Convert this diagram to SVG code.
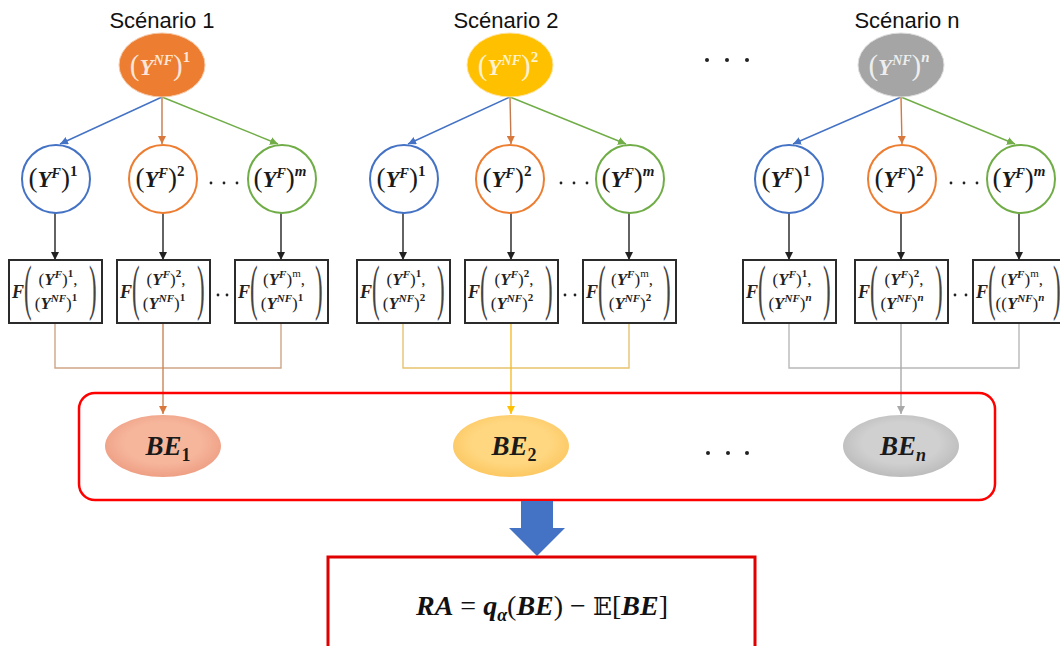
<svg xmlns="http://www.w3.org/2000/svg" width="1060" height="646" viewBox="0 0 1060 646">
  <style>
    .title { font-family: "Liberation Sans", Arial, sans-serif; font-size: 22px; fill: #111; text-anchor: middle; }
    .m { font-family: "Liberation Serif", "DejaVu Serif", serif; }
    .bi { font-weight: bold; font-style: italic; }
    .b { font-weight: bold; }
    .et { fill: #ffffff; fill-opacity: 0.82; font-size: 23px; text-anchor: middle; }
    .ct { fill: #1a1a1a; font-size: 23px; text-anchor: middle; }
    .bx { fill: #ffffff; stroke: #2b2b2b; stroke-width: 2; }
    .bt { fill: #222; font-size: 17px; text-anchor: middle; }
    .bp { fill: #444; font-size: 23px; }
    .bf { fill: #222; font-size: 18px; }
    .circ { fill: #ffffff; stroke-width: 2; }
    .dot { fill: #222; }
    .ln { fill: none; stroke-width: 1.4; }
    .bet { fill: #1a1a1a; font-size: 27px; text-anchor: middle; }
  </style>
  <defs>
    <marker id="a-blue" viewBox="0 0 8 8" refX="8" refY="4" markerWidth="8" markerHeight="8" markerUnits="userSpaceOnUse" orient="auto"><path d="M0,0 L8,4 L0,8 z" fill="#4472c4"/></marker>
    <marker id="a-orange" viewBox="0 0 8 8" refX="8" refY="4" markerWidth="8" markerHeight="8" markerUnits="userSpaceOnUse" orient="auto"><path d="M0,0 L8,4 L0,8 z" fill="#d9783d"/></marker>
    <marker id="a-green" viewBox="0 0 8 8" refX="8" refY="4" markerWidth="8" markerHeight="8" markerUnits="userSpaceOnUse" orient="auto"><path d="M0,0 L8,4 L0,8 z" fill="#70ad47"/></marker>
    <marker id="a-black" viewBox="0 0 8 8" refX="8" refY="4" markerWidth="8" markerHeight="8" markerUnits="userSpaceOnUse" orient="auto"><path d="M0,0 L8,4 L0,8 z" fill="#222"/></marker>
    <marker id="a-gold" viewBox="0 0 8 8" refX="8" refY="4" markerWidth="8" markerHeight="8" markerUnits="userSpaceOnUse" orient="auto"><path d="M0,0 L8,4 L0,8 z" fill="#ffc000"/></marker>
    <marker id="a-grey" viewBox="0 0 8 8" refX="8" refY="4" markerWidth="8" markerHeight="8" markerUnits="userSpaceOnUse" orient="auto"><path d="M0,0 L8,4 L0,8 z" fill="#a8a8a8"/></marker>
    <radialGradient id="g-be1" cx="50%" cy="45%" r="55%"><stop offset="0.6" stop-color="#f6b69c"/><stop offset="1" stop-color="#ee9f84"/></radialGradient>
    <radialGradient id="g-be2" cx="50%" cy="45%" r="55%"><stop offset="0.6" stop-color="#ffd781"/><stop offset="1" stop-color="#fcc862"/></radialGradient>
    <radialGradient id="g-ben" cx="50%" cy="45%" r="55%"><stop offset="0.6" stop-color="#d0d0d0"/><stop offset="1" stop-color="#bcbcbc"/></radialGradient>
  </defs>

  <rect width="1060" height="646" fill="#ffffff"/>

  <!-- scenario titles -->
  <text class="title" x="162" y="28">Scénario 1</text>
  <text class="title" x="506" y="28">Scénario 2</text>
  <text class="title" x="907" y="28">Scénario n</text>

  <!-- connectors -->
  <g id="connectors">
    <!-- scenario 1: top ellipse to circles -->
    <line class="ln" x1="162" y1="97" x2="60" y2="144" stroke="#4472c4" marker-end="url(#a-blue)"/>
    <line class="ln" x1="162" y1="97" x2="162" y2="144" stroke="#c47a4c" marker-end="url(#a-orange)"/>
    <line class="ln" x1="162" y1="97" x2="278" y2="144" stroke="#70ad47" marker-end="url(#a-green)"/>
    <!-- scenario 2 -->
    <line class="ln" x1="510" y1="97" x2="408" y2="144" stroke="#4472c4" marker-end="url(#a-blue)"/>
    <line class="ln" x1="510" y1="97" x2="511" y2="144" stroke="#c47a4c" marker-end="url(#a-orange)"/>
    <line class="ln" x1="510" y1="97" x2="626" y2="144" stroke="#70ad47" marker-end="url(#a-green)"/>
    <!-- scenario n -->
    <line class="ln" x1="901" y1="97" x2="793" y2="144" stroke="#4472c4" marker-end="url(#a-blue)"/>
    <line class="ln" x1="901" y1="97" x2="902" y2="144" stroke="#d9783d" marker-end="url(#a-orange)"/>
    <line class="ln" x1="901" y1="97" x2="1015" y2="144" stroke="#70ad47" marker-end="url(#a-green)"/>

    <!-- circles to F boxes -->
    <g stroke="#222" class="ln">
      <line x1="55" y1="213" x2="55" y2="260" marker-end="url(#a-black)"/>
      <line x1="163" y1="213" x2="163" y2="260" marker-end="url(#a-black)"/>
      <line x1="281" y1="213" x2="281" y2="260" marker-end="url(#a-black)"/>
      <line x1="403" y1="213" x2="403" y2="260" marker-end="url(#a-black)"/>
      <line x1="511" y1="213" x2="511" y2="260" marker-end="url(#a-black)"/>
      <line x1="629" y1="213" x2="629" y2="260" marker-end="url(#a-black)"/>
      <line x1="789" y1="213" x2="789" y2="260" marker-end="url(#a-black)"/>
      <line x1="901" y1="213" x2="901" y2="260" marker-end="url(#a-black)"/>
      <line x1="1019" y1="213" x2="1019" y2="260" marker-end="url(#a-black)"/>
    </g>

    <!-- F boxes merged into BE nodes -->
    <path class="ln" d="M55,323 V368 H281 V323" stroke="#cfa585"/>
    <line class="ln" x1="163" y1="323" x2="163" y2="414" stroke="#c98558" marker-end="url(#a-orange)"/>
    <path class="ln" d="M403,323 V368 H629 V323" stroke="#e6c26e"/>
    <line class="ln" x1="511" y1="323" x2="511" y2="414" stroke="#f5bd2a" marker-end="url(#a-gold)"/>
    <path class="ln" d="M789,323 V368 H1019 V323" stroke="#b8b8b8"/>
    <line class="ln" x1="901" y1="323" x2="901" y2="414" stroke="#aaaaaa" marker-end="url(#a-grey)"/>
  </g>

  <!-- scenario root nodes -->
  <g id="ynf-1">
    <ellipse cx="162" cy="65" rx="43" ry="32" fill="#ed7d31" stroke="#f6c9a8" stroke-width="1"/>
    <text class="m et" x="160" y="75"><tspan font-size="29">(</tspan><tspan class="bi">Y</tspan><tspan class="bi" font-size="14" dy="-10">NF</tspan><tspan font-size="29" dy="10">)</tspan><tspan class="b" font-size="15" dy="-13">1</tspan></text>
  </g>
  <g id="ynf-2">
    <ellipse cx="510" cy="65" rx="43" ry="32" fill="#ffc000" stroke="#ffe3a0" stroke-width="1"/>
    <text class="m et" x="508" y="75"><tspan font-size="29">(</tspan><tspan class="bi">Y</tspan><tspan class="bi" font-size="14" dy="-10">NF</tspan><tspan font-size="29" dy="10">)</tspan><tspan class="b" font-size="15" dy="-13">2</tspan></text>
  </g>
  <g id="ynf-n">
    <ellipse cx="901" cy="65" rx="43" ry="32" fill="#a5a5a5" stroke="#dddddd" stroke-width="1"/>
    <text class="m et" x="899" y="75"><tspan font-size="29">(</tspan><tspan class="bi">Y</tspan><tspan class="bi" font-size="14" dy="-10">NF</tspan><tspan font-size="29" dy="10">)</tspan><tspan class="bi" font-size="15" dy="-13">n</tspan></text>
  </g>
  <g id="dots-top" class="dot">
    <circle cx="707" cy="60" r="2"/><circle cx="727" cy="60" r="2"/><circle cx="747" cy="60" r="2"/>
  </g>

  <!-- Y^F circles -->
  <g id="yf-1-1"><circle class="circ" cx="56" cy="179" r="34" stroke="#4472c4"/>
    <text class="m ct" x="53" y="187"><tspan font-size="27">(</tspan><tspan class="bi">Y</tspan><tspan class="bi" font-size="14" dy="-9">F</tspan><tspan font-size="27" dy="9">)</tspan><tspan class="b" font-size="15" dy="-11">1</tspan></text></g>
  <g id="yf-1-2"><circle class="circ" cx="163" cy="179" r="34" stroke="#ed7d31"/>
    <text class="m ct" x="160" y="187"><tspan font-size="27">(</tspan><tspan class="bi">Y</tspan><tspan class="bi" font-size="14" dy="-9">F</tspan><tspan font-size="27" dy="9">)</tspan><tspan class="b" font-size="15" dy="-11">2</tspan></text></g>
  <g id="yf-1-m"><circle class="circ" cx="282" cy="179" r="34" stroke="#70ad47"/>
    <text class="m ct" x="280" y="187"><tspan font-size="27">(</tspan><tspan class="bi">Y</tspan><tspan class="bi" font-size="14" dy="-9">F</tspan><tspan font-size="27" dy="9">)</tspan><tspan class="bi" font-size="15" dy="-11">m</tspan></text></g>

  <g id="yf-2-1"><circle class="circ" cx="404" cy="179" r="34" stroke="#4472c4"/>
    <text class="m ct" x="401" y="187"><tspan font-size="27">(</tspan><tspan class="bi">Y</tspan><tspan class="bi" font-size="14" dy="-9">F</tspan><tspan font-size="27" dy="9">)</tspan><tspan class="b" font-size="15" dy="-11">1</tspan></text></g>
  <g id="yf-2-2"><circle class="circ" cx="510" cy="179" r="34" stroke="#ed7d31"/>
    <text class="m ct" x="507" y="187"><tspan font-size="27">(</tspan><tspan class="bi">Y</tspan><tspan class="bi" font-size="14" dy="-9">F</tspan><tspan font-size="27" dy="9">)</tspan><tspan class="b" font-size="15" dy="-11">2</tspan></text></g>
  <g id="yf-2-m"><circle class="circ" cx="630" cy="179" r="34" stroke="#70ad47"/>
    <text class="m ct" x="628" y="187"><tspan font-size="27">(</tspan><tspan class="bi">Y</tspan><tspan class="bi" font-size="14" dy="-9">F</tspan><tspan font-size="27" dy="9">)</tspan><tspan class="bi" font-size="15" dy="-11">m</tspan></text></g>

  <g id="yf-n-1"><circle class="circ" cx="789" cy="179" r="34" stroke="#4472c4"/>
    <text class="m ct" x="786" y="187"><tspan font-size="27">(</tspan><tspan class="bi">Y</tspan><tspan class="bi" font-size="14" dy="-9">F</tspan><tspan font-size="27" dy="9">)</tspan><tspan class="b" font-size="15" dy="-11">1</tspan></text></g>
  <g id="yf-n-2"><circle class="circ" cx="902" cy="179" r="34" stroke="#ed7d31"/>
    <text class="m ct" x="899" y="187"><tspan font-size="27">(</tspan><tspan class="bi">Y</tspan><tspan class="bi" font-size="14" dy="-9">F</tspan><tspan font-size="27" dy="9">)</tspan><tspan class="b" font-size="15" dy="-11">2</tspan></text></g>
  <g id="yf-n-m"><circle class="circ" cx="1021" cy="179" r="34" stroke="#70ad47"/>
    <text class="m ct" x="1019" y="187"><tspan font-size="27">(</tspan><tspan class="bi">Y</tspan><tspan class="bi" font-size="14" dy="-9">F</tspan><tspan font-size="27" dy="9">)</tspan><tspan class="bi" font-size="15" dy="-11">m</tspan></text></g>

  <g id="dots-circles" class="dot">
    <circle cx="211" cy="183" r="1.4"/><circle cx="224" cy="183" r="1.4"/><circle cx="237" cy="183" r="1.4"/>
    <circle cx="561" cy="183" r="1.4"/><circle cx="574" cy="183" r="1.4"/><circle cx="587" cy="183" r="1.4"/>
    <circle cx="951" cy="183" r="1.4"/><circle cx="964" cy="183" r="1.4"/><circle cx="977" cy="183" r="1.4"/>
  </g>

  <!-- F(Y^F, Y^NF) boxes, local coordinates from the box's top-left corner -->
  <g id="f-1-1" transform="translate(9,260)">
    <rect class="bx" width="93" height="63"/>
    <text class="m bf bi" x="3" y="38">F</text>
    <text class="m bp" transform="translate(15,48) scale(1,2.7)">(</text>
    <text class="m bt" x="49" y="25">(<tspan class="bi">Y</tspan><tspan class="bi" font-size="11" dy="-7">F</tspan><tspan dy="7">)</tspan><tspan class="b" font-size="11" dy="-8">1</tspan><tspan dy="8">,</tspan></text>
    <text class="m bt" x="47" y="49">(<tspan class="bi">Y</tspan><tspan class="bi" font-size="11" dy="-7">NF</tspan><tspan dy="7">)</tspan><tspan class="b" font-size="11" dy="-8">1</tspan></text>
    <text class="m bp" transform="translate(80,48) scale(1,2.7)">)</text>
  </g>
  <g id="f-1-2" transform="translate(117,260)">
    <rect class="bx" width="93" height="63"/>
    <text class="m bf bi" x="3" y="38">F</text>
    <text class="m bp" transform="translate(15,48) scale(1,2.7)">(</text>
    <text class="m bt" x="49" y="25">(<tspan class="bi">Y</tspan><tspan class="bi" font-size="11" dy="-7">F</tspan><tspan dy="7">)</tspan><tspan class="b" font-size="11" dy="-8">2</tspan><tspan dy="8">,</tspan></text>
    <text class="m bt" x="47" y="49">(<tspan class="bi">Y</tspan><tspan class="bi" font-size="11" dy="-7">NF</tspan><tspan dy="7">)</tspan><tspan class="b" font-size="11" dy="-8">1</tspan></text>
    <text class="m bp" transform="translate(80,48) scale(1,2.7)">)</text>
  </g>
  <g id="f-1-m" transform="translate(235,260)">
    <rect class="bx" width="93" height="63"/>
    <text class="m bf bi" x="3" y="38">F</text>
    <text class="m bp" transform="translate(15,48) scale(1,2.7)">(</text>
    <text class="m bt" x="49" y="25">(<tspan class="bi">Y</tspan><tspan class="bi" font-size="11" dy="-7">F</tspan><tspan dy="7">)</tspan><tspan font-size="11" dy="-8">m</tspan><tspan dy="8">,</tspan></text>
    <text class="m bt" x="47" y="49">(<tspan class="bi">Y</tspan><tspan class="bi" font-size="11" dy="-7">NF</tspan><tspan dy="7">)</tspan><tspan class="b" font-size="11" dy="-8">1</tspan></text>
    <text class="m bp" transform="translate(80,48) scale(1,2.7)">)</text>
  </g>

  <g id="f-2-1" transform="translate(357,260)">
    <rect class="bx" width="93" height="63"/>
    <text class="m bf bi" x="3" y="38">F</text>
    <text class="m bp" transform="translate(15,48) scale(1,2.7)">(</text>
    <text class="m bt" x="49" y="25">(<tspan class="bi">Y</tspan><tspan class="bi" font-size="11" dy="-7">F</tspan><tspan dy="7">)</tspan><tspan class="b" font-size="11" dy="-8">1</tspan><tspan dy="8">,</tspan></text>
    <text class="m bt" x="47" y="49">(<tspan class="bi">Y</tspan><tspan class="bi" font-size="11" dy="-7">NF</tspan><tspan dy="7">)</tspan><tspan class="b" font-size="11" dy="-8">2</tspan></text>
    <text class="m bp" transform="translate(80,48) scale(1,2.7)">)</text>
  </g>
  <g id="f-2-2" transform="translate(465,260)">
    <rect class="bx" width="93" height="63"/>
    <text class="m bf bi" x="3" y="38">F</text>
    <text class="m bp" transform="translate(15,48) scale(1,2.7)">(</text>
    <text class="m bt" x="49" y="25">(<tspan class="bi">Y</tspan><tspan class="bi" font-size="11" dy="-7">F</tspan><tspan dy="7">)</tspan><tspan class="b" font-size="11" dy="-8">2</tspan><tspan dy="8">,</tspan></text>
    <text class="m bt" x="47" y="49">(<tspan class="bi">Y</tspan><tspan class="bi" font-size="11" dy="-7">NF</tspan><tspan dy="7">)</tspan><tspan class="b" font-size="11" dy="-8">2</tspan></text>
    <text class="m bp" transform="translate(80,48) scale(1,2.7)">)</text>
  </g>
  <g id="f-2-m" transform="translate(583,260)">
    <rect class="bx" width="93" height="63"/>
    <text class="m bf bi" x="3" y="38">F</text>
    <text class="m bp" transform="translate(15,48) scale(1,2.7)">(</text>
    <text class="m bt" x="49" y="25">(<tspan class="bi">Y</tspan><tspan class="bi" font-size="11" dy="-7">F</tspan><tspan dy="7">)</tspan><tspan font-size="11" dy="-8">m</tspan><tspan dy="8">,</tspan></text>
    <text class="m bt" x="47" y="49">(<tspan class="bi">Y</tspan><tspan class="bi" font-size="11" dy="-7">NF</tspan><tspan dy="7">)</tspan><tspan class="b" font-size="11" dy="-8">2</tspan></text>
    <text class="m bp" transform="translate(80,48) scale(1,2.7)">)</text>
  </g>

  <g id="f-n-1" transform="translate(743,260)">
    <rect class="bx" width="93" height="63"/>
    <text class="m bf bi" x="3" y="38">F</text>
    <text class="m bp" transform="translate(15,48) scale(1,2.7)">(</text>
    <text class="m bt" x="49" y="25">(<tspan class="bi">Y</tspan><tspan class="bi" font-size="11" dy="-7">F</tspan><tspan dy="7">)</tspan><tspan class="b" font-size="11" dy="-8">1</tspan><tspan dy="8">,</tspan></text>
    <text class="m bt" x="47" y="49">(<tspan class="bi">Y</tspan><tspan class="bi" font-size="11" dy="-7">NF</tspan><tspan dy="7">)</tspan><tspan class="bi" font-size="11" dy="-8">n</tspan></text>
    <text class="m bp" transform="translate(80,48) scale(1,2.7)">)</text>
  </g>
  <g id="f-n-2" transform="translate(855,260)">
    <rect class="bx" width="93" height="63"/>
    <text class="m bf bi" x="3" y="38">F</text>
    <text class="m bp" transform="translate(15,48) scale(1,2.7)">(</text>
    <text class="m bt" x="49" y="25">(<tspan class="bi">Y</tspan><tspan class="bi" font-size="11" dy="-7">F</tspan><tspan dy="7">)</tspan><tspan class="b" font-size="11" dy="-8">2</tspan><tspan dy="8">,</tspan></text>
    <text class="m bt" x="47" y="49">(<tspan class="bi">Y</tspan><tspan class="bi" font-size="11" dy="-7">NF</tspan><tspan dy="7">)</tspan><tspan class="bi" font-size="11" dy="-8">n</tspan></text>
    <text class="m bp" transform="translate(80,48) scale(1,2.7)">)</text>
  </g>
  <g id="f-n-m" transform="translate(973,260)">
    <rect class="bx" width="93" height="63"/>
    <text class="m bf bi" x="3" y="38">F</text>
    <text class="m bp" transform="translate(15,48) scale(1,2.7)">(</text>
    <text class="m bt" x="49" y="25">(<tspan class="bi">Y</tspan><tspan class="bi" font-size="11" dy="-7">F</tspan><tspan dy="7">)</tspan><tspan font-size="11" dy="-8">m</tspan><tspan dy="8">,</tspan></text>
    <text class="m bt" x="47" y="49">((<tspan class="bi">Y</tspan><tspan class="bi" font-size="11" dy="-7">NF</tspan><tspan dy="7">)</tspan><tspan class="bi" font-size="11" dy="-8">n</tspan></text>
    <text class="m bp" transform="translate(80,48) scale(1,2.7)">)</text>
  </g>

  <g id="dots-boxes" class="dot">
    <circle cx="218" cy="295" r="1.4"/><circle cx="227" cy="295" r="1.4"/>
    <circle cx="565" cy="295" r="1.4"/><circle cx="575" cy="295" r="1.4"/>
    <circle cx="955" cy="295" r="1.4"/><circle cx="966" cy="295" r="1.4"/>
  </g>

  <!-- best-estimate container -->
  <g id="be-container">
    <rect x="79" y="393" width="916" height="107" rx="16" fill="none" stroke="#ff0000" stroke-width="2.5"/>
  </g>
  <g id="be-1">
    <ellipse cx="163" cy="446" rx="58" ry="31" fill="url(#g-be1)"/>
    <text class="m bet" x="168" y="455"><tspan class="bi">BE</tspan><tspan class="b" font-size="18" dy="6">1</tspan></text>
  </g>
  <g id="be-2">
    <ellipse cx="511" cy="446" rx="58" ry="31" fill="url(#g-be2)"/>
    <text class="m bet" x="514" y="455"><tspan class="bi">BE</tspan><tspan class="b" font-size="18" dy="6">2</tspan></text>
  </g>
  <g id="be-n">
    <ellipse cx="901" cy="446" rx="58" ry="31" fill="url(#g-ben)"/>
    <text class="m bet" x="903" y="455"><tspan class="bi">BE</tspan><tspan class="bi" font-size="18" dy="6">n</tspan></text>
  </g>
  <g id="dots-be" class="dot">
    <circle cx="708" cy="453" r="2"/><circle cx="728" cy="453" r="2"/><circle cx="747" cy="453" r="2"/>
  </g>

  <!-- block arrow to risk adjustment -->
  <g id="block-arrow">
    <polygon points="521,501 553,501 553,528 565,528 537,556 509,528 521,528" fill="#4472c4"/>
  </g>

  <!-- risk adjustment formula -->
  <g id="ra">
    <rect x="328" y="557" width="427" height="100" fill="#ffffff" stroke="#e00000" stroke-width="3"/>
    <text class="m" x="542" y="615" font-size="28" text-anchor="middle" fill="#111"><tspan class="bi">RA</tspan> = <tspan class="bi">q</tspan><tspan class="bi" font-size="18" dy="6">α</tspan><tspan dy="-6">(</tspan><tspan class="bi">BE</tspan>) − <tspan font-family="'DejaVu Serif', 'DejaVu Sans', serif" font-size="25">𝔼</tspan>[<tspan class="bi">BE</tspan>]</text>
  </g>
</svg>
